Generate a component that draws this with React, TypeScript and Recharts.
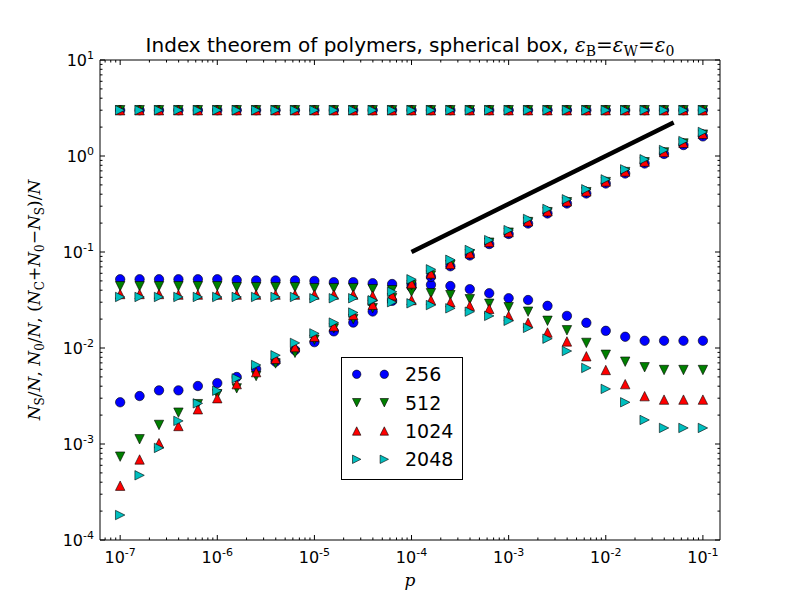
import React from 'react';
import { ScatterChart, Scatter, XAxis, YAxis, Legend } from 'recharts';

// Occupation probability p (five points per decade)
const P_VALUES = [
  1e-7, 1.585e-7, 2.512e-7, 3.981e-7, 6.31e-7,
  1e-6, 1.585e-6, 2.512e-6, 3.981e-6, 6.31e-6,
  1e-5, 1.585e-5, 2.512e-5, 3.981e-5, 6.31e-5,
  1e-4, 1.585e-4, 2.512e-4, 3.981e-4, 6.31e-4,
  1e-3, 1.585e-3, 2.512e-3, 3.981e-3, 6.31e-3,
  1e-2, 1.585e-2, 2.512e-2, 3.981e-2, 6.31e-2,
  1e-1,
];

// N_S / N  (same for every system size)
const NS_RATIO = [
  3, 3, 3, 3, 3, 3, 3, 3, 3, 3, 3, 3, 3, 3, 3, 3,
  3, 3, 3, 3, 3, 3, 3, 3, 3, 3, 3, 3, 3, 3, 3,
];

// N_0 / N
const N0_256 = [0.052, 0.052, 0.052, 0.052, 0.052, 0.052, 0.051, 0.0505, 0.0505, 0.0505, 0.05, 0.0485, 0.0485, 0.0473, 0.0464, 0.0464, 0.0455, 0.0442, 0.041, 0.0372, 0.033, 0.0316, 0.0275, 0.0216, 0.0183, 0.0151, 0.0131, 0.0119, 0.0119, 0.0119, 0.0119];
const N0_512 = [0.044, 0.044, 0.044, 0.044, 0.044, 0.044, 0.043, 0.043, 0.043, 0.043, 0.042, 0.042, 0.042, 0.041, 0.04, 0.0385, 0.0372, 0.0356, 0.0322, 0.0289, 0.0266, 0.0239, 0.0192, 0.0153, 0.0113, 0.0085, 0.0072, 0.0063, 0.0059, 0.0059, 0.0059];
const N0_1024 = [0.0365, 0.0365, 0.0365, 0.036, 0.036, 0.036, 0.036, 0.036, 0.036, 0.036, 0.036, 0.036, 0.036, 0.035, 0.033, 0.0316, 0.0316, 0.03, 0.0275, 0.0256, 0.0216, 0.0183, 0.0145, 0.0117, 0.0082, 0.0059, 0.0042, 0.00315, 0.0029, 0.0029, 0.0029];
const N0_2048 = [0.034, 0.034, 0.034, 0.034, 0.034, 0.034, 0.034, 0.034, 0.034, 0.034, 0.033, 0.033, 0.033, 0.031, 0.03, 0.0292, 0.028, 0.0259, 0.0239, 0.0216, 0.0192, 0.0162, 0.0125, 0.0093, 0.0062, 0.00375, 0.00272, 0.00178, 0.00147, 0.00147, 0.00147];

// (N_C + N_0 - N_S) / N
const RISE_256 = [0.00272, 0.00316, 0.00362, 0.00362, 0.00402, 0.00431, 0.00499, 0.00604, 0.0072, 0.0095, 0.0115, 0.0149, 0.0184, 0.024, 0.031, 0.043, 0.055, 0.071, 0.092, 0.121, 0.154, 0.198, 0.252, 0.32, 0.407, 0.517, 0.657, 0.835, 1.05, 1.3, 1.6];
const RISE_512 = [0.000738, 0.00112, 0.00158, 0.00212, 0.0026, 0.0033, 0.0038, 0.0051, 0.0069, 0.0089, 0.0122, 0.016, 0.02, 0.026, 0.033, 0.045, 0.057, 0.073, 0.095, 0.125, 0.159, 0.205, 0.26, 0.33, 0.42, 0.535, 0.68, 0.86, 1.09, 1.35, 1.67];
const RISE_1024 = [0.000368, 0.00069, 0.00102, 0.00154, 0.0023, 0.003, 0.0042, 0.0056, 0.0077, 0.0102, 0.0131, 0.0168, 0.0221, 0.0282, 0.0354, 0.047, 0.0597, 0.075, 0.097, 0.127, 0.161, 0.209, 0.266, 0.337, 0.428, 0.543, 0.69, 0.875, 1.1, 1.37, 1.7];
const RISE_2048 = [0.000182, 0.000472, 0.00091, 0.00174, 0.00265, 0.00359, 0.00483, 0.00665, 0.0084, 0.0113, 0.0142, 0.0184, 0.0234, 0.0314, 0.0385, 0.052, 0.066, 0.083, 0.105, 0.133, 0.169, 0.221, 0.281, 0.354, 0.45, 0.571, 0.726, 0.925, 1.155, 1.43, 1.78];

// Reference slope-1/2 guide line
const GUIDE_P = [1e-4, 0.05];
const GUIDE_V = [0.1, 2.236];

const SERIES_NAMES = ['256', '512', '1024', '2048'];
const SERIES_COLORS = ['#0000ff', '#008000', '#ff0000', '#00bfbf'];
const SERIES_MARKERS = ['circle', 'down', 'up', 'right'];

const X_DOMAIN: [number, number] = [6.2e-8, 0.15];
const Y_DOMAIN: [number, number] = [1e-4, 10];
const X_MAJOR = [1e-7, 1e-6, 1e-5, 1e-4, 1e-3, 1e-2, 1e-1];
const X_MAJOR_LABELS = ['-7', '-6', '-5', '-4', '-3', '-2', '-1'];
const Y_MAJOR = [1e-4, 1e-3, 1e-2, 1e-1, 1, 10];
const Y_MAJOR_LABELS = ['-4', '-3', '-2', '-1', '0', '1'];

function minorTicks(lo: number, hi: number): number[] {
  const out: number[] = [];
  const e0 = Math.floor(Math.log10(lo));
  const e1 = Math.ceil(Math.log10(hi));
  for (let e = e0; e <= e1; e++) {
    for (let d = 2; d <= 9; d++) {
      const v = d * Math.pow(10, e);
      if (v >= lo && v <= hi) out.push(v);
    }
  }
  return out;
}

const X_TICKS = [...X_MAJOR, ...minorTicks(X_DOMAIN[0], X_DOMAIN[1])];
const Y_TICKS = [...Y_MAJOR, ...minorTicks(Y_DOMAIN[0], Y_DOMAIN[1])];

const SANS = 'DejaVu Sans';
const SERIF = 'DejaVu Serif';

const buildPoints = (n0: number[], rise: number[]) => [
  ...P_VALUES.map((p, i) => ({ p, v: NS_RATIO[i] })),
  ...P_VALUES.map((p, i) => ({ p, v: n0[i] })),
  ...P_VALUES.map((p, i) => ({ p, v: rise[i] })),
];

const SERIES_DATA = [
  buildPoints(N0_256, RISE_256),
  buildPoints(N0_512, RISE_512),
  buildPoints(N0_1024, RISE_1024),
  buildPoints(N0_2048, RISE_2048),
];

const GUIDE_DATA = GUIDE_P.map((p, i) => ({ p, v: GUIDE_V[i] }));

function Marker({ kind, cx, cy, color, h }: { kind: string; cx: number; cy: number; color: string; h: number }) {
  const common = { fill: color, stroke: '#000', strokeWidth: 0.6 };
  if (kind === 'circle') return <circle cx={cx} cy={cy} r={h} {...common} />;
  let pts = '';
  if (kind === 'down') pts = `${cx},${cy + h} ${cx - h},${cy - h} ${cx + h},${cy - h}`;
  else if (kind === 'up') pts = `${cx},${cy - h} ${cx - h},${cy + h} ${cx + h},${cy + h}`;
  else pts = `${cx + h},${cy} ${cx - h},${cy - h} ${cx - h},${cy + h}`;
  return <polygon points={pts} {...common} />;
}

const majorIndex = (list: number[], v: number) =>
  list.findIndex((m) => Math.abs(m - v) / m < 1e-6);

const makeTick = (side: 'bottom' | 'top' | 'left' | 'right') => (props: any) => {
  const { x, y, payload } = props;
  const v = payload.value as number;
  const list = side === 'bottom' || side === 'top' ? X_MAJOR : Y_MAJOR;
  const idx = majorIndex(list, v);
  const major = idx >= 0;
  const len = major ? 5 : 2.5;
  let line;
  if (side === 'bottom') line = <line x1={x} x2={x} y1={y} y2={y - len} stroke="#000" />;
  else if (side === 'top') line = <line x1={x} x2={x} y1={y} y2={y + len} stroke="#000" />;
  else if (side === 'left') line = <line x1={x} x2={x + len} y1={y} y2={y} stroke="#000" />;
  else line = <line x1={x} x2={x - len} y1={y} y2={y} stroke="#000" />;
  let label = null;
  if (major && side === 'bottom') {
    label = (
      <text x={x} y={y + 23} textAnchor="middle" fontFamily={SANS} fontSize={16} fill="#000">
        10<tspan dy={-7} fontSize={11}>{X_MAJOR_LABELS[idx]}</tspan>
      </text>
    );
  } else if (major && side === 'left') {
    label = (
      <text x={x - 6} y={y + 6} textAnchor="end" fontFamily={SANS} fontSize={16} fill="#000">
        10<tspan dy={-7} fontSize={11}>{Y_MAJOR_LABELS[idx]}</tspan>
      </text>
    );
  }
  return (
    <g>
      {line}
      {label}
    </g>
  );
};

const TitleLabel = (props: any) => {
  const { x, y, width, height } = props.viewBox;
  return (
    <text x={x + width / 2} y={y + height - 8} textAnchor="middle" fontFamily={SANS} fontSize={20} fill="#000">
      Index theorem of polymers, spherical box,{' '}
      <tspan fontFamily={SERIF} fontStyle="italic">ε</tspan>
      <tspan fontFamily={SERIF} fontSize={14} dy={4}>B</tspan>
      <tspan fontFamily={SERIF} dy={-4}>=</tspan>
      <tspan fontFamily={SERIF} fontStyle="italic">ε</tspan>
      <tspan fontFamily={SERIF} fontSize={14} dy={4}>W</tspan>
      <tspan fontFamily={SERIF} dy={-4}>=</tspan>
      <tspan fontFamily={SERIF} fontStyle="italic">ε</tspan>
      <tspan fontFamily={SERIF} fontSize={14} dy={4}>0</tspan>
    </text>
  );
};

const XLabel = (props: any) => {
  const { x, y, width } = props.viewBox;
  return (
    <text x={x + width / 2} y={y + 46} textAnchor="middle" fontFamily={SERIF} fontStyle="italic" fontSize={17} fill="#000">
      p
    </text>
  );
};

const YLabel = (props: any) => {
  const { x, y, width, height } = props.viewBox;
  const cx = x + width - 60;
  const cy = y + height / 2;
  const sub = 12;
  return (
    <text
      x={cx}
      y={cy}
      transform={`rotate(-90 ${cx} ${cy})`}
      textAnchor="middle"
      fontFamily={SERIF}
      fontSize={17}
      fill="#000"
    >
      <tspan fontStyle="italic">N</tspan>
      <tspan fontSize={sub} dy={4}>S</tspan>
      <tspan dy={-4}>/</tspan>
      <tspan fontStyle="italic">N</tspan>
      <tspan>, </tspan>
      <tspan fontStyle="italic">N</tspan>
      <tspan fontSize={sub} dy={4}>0</tspan>
      <tspan dy={-4}>/</tspan>
      <tspan fontStyle="italic">N</tspan>
      <tspan>, (</tspan>
      <tspan fontStyle="italic">N</tspan>
      <tspan fontSize={sub} dy={4}>C</tspan>
      <tspan dy={-4}>+</tspan>
      <tspan fontStyle="italic">N</tspan>
      <tspan fontSize={sub} dy={4}>0</tspan>
      <tspan dy={-4}>−</tspan>
      <tspan fontStyle="italic">N</tspan>
      <tspan fontSize={sub} dy={4}>S</tspan>
      <tspan dy={-4}>)/</tspan>
      <tspan fontStyle="italic">N</tspan>
    </text>
  );
};

const LegendBox = () => {
  const rowY = [17.3, 45.7, 74, 102.3];
  return (
    <svg width={122} height={123} style={{ display: 'block' }}>
      <rect x={0.5} y={0.5} width={121} height={122} fill="#fff" stroke="#000" strokeWidth={1} />
      {SERIES_NAMES.map((name, i) => (
        <g key={name}>
          <Marker kind={SERIES_MARKERS[i]} cx={15.7} cy={rowY[i]} color={SERIES_COLORS[i]} h={4.2} />
          <Marker kind={SERIES_MARKERS[i]} cx={43.3} cy={rowY[i]} color={SERIES_COLORS[i]} h={4.2} />
          <text x={64} y={rowY[i] + 7} fontFamily={SANS} fontSize={19} fill="#000">
            {name}
          </text>
        </g>
      ))}
    </svg>
  );
};

const axisCommon = {
  type: 'number' as const,
  scale: 'log' as const,
  allowDataOverflow: true,
  interval: 0 as const,
  tickSize: 0,
  tickMargin: 0,
  tickLine: false,
  axisLine: { stroke: '#000', strokeWidth: 1 },
};

export default function App() {
  return (
    <div style={{ position: 'absolute', left: 0, top: 0, width: 800, height: 600, background: '#fff' }}>
      <ScatterChart width={800} height={600} margin={{ top: 40, right: 60, bottom: 30, left: 40 }}>
        <XAxis
          {...axisCommon}
          xAxisId="b"
          dataKey="p"
          domain={X_DOMAIN}
          ticks={X_TICKS}
          height={30}
          tick={makeTick('bottom')}
          label={{ content: XLabel }}
        />
        <XAxis
          {...axisCommon}
          xAxisId="t"
          orientation="top"
          dataKey="p"
          domain={X_DOMAIN}
          ticks={X_TICKS}
          height={20}
          tick={makeTick('top')}
          label={{ content: TitleLabel }}
        />
        <YAxis
          {...axisCommon}
          yAxisId="l"
          dataKey="v"
          domain={Y_DOMAIN}
          ticks={Y_TICKS}
          width={60}
          tick={makeTick('left')}
          label={{ content: YLabel }}
        />
        <YAxis
          {...axisCommon}
          yAxisId="r"
          orientation="right"
          dataKey="v"
          domain={Y_DOMAIN}
          ticks={Y_TICKS}
          width={20}
          tick={makeTick('right')}
        />
        {SERIES_DATA.map((data, i) => (
          <Scatter
            key={SERIES_NAMES[i]}
            name={SERIES_NAMES[i]}
            xAxisId="b"
            yAxisId="l"
            data={data}
            isAnimationActive={false}
            shape={(props: any) => (
              <Marker kind={SERIES_MARKERS[i]} cx={props.cx} cy={props.cy} color={SERIES_COLORS[i]} h={4.7} />
            )}
          />
        ))}
        <Scatter
          name="guide"
          xAxisId="b"
          yAxisId="l"
          data={GUIDE_DATA}
          isAnimationActive={false}
          line={{ stroke: '#000', strokeWidth: 4.5 }}
          shape={() => <g />}
          legendType="none"
        />
        <Legend
          layout="vertical"
          align="center"
          verticalAlign="middle"
          content={LegendBox}
          wrapperStyle={{ left: 341, top: 357, width: 122, height: 123 }}
        />
      </ScatterChart>
    </div>
  );
}
